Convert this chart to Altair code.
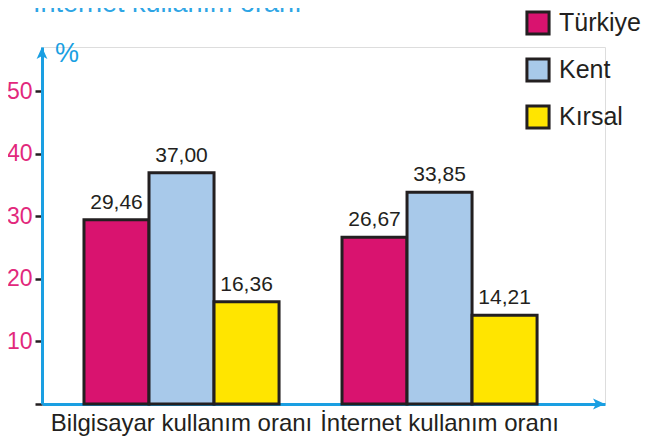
import altair as alt
import pandas as pd

categories = ["Bilgisayar kullanım oranı", "İnternet kullanım oranı"]
series = ["Türkiye", "Kent", "Kırsal"]
values_bilgisayar = [29.46, 37.00, 16.36]
values_internet = [26.67, 33.85, 14.21]
colors = ["#d9136f", "#a8c9ea", "#ffe500"]
y_ticks = [0, 10, 20, 30, 40, 50]
top_text = "İnternet kullanım oranı"
unit_text = "%"

rows = []
for cat, vals in zip(categories, [values_bilgisayar, values_internet]):
    for s, v in zip(series, vals):
        rows.append({"kategori": cat, "seri": s, "deger": v})
df = pd.DataFrame(rows)

W, H = 563, 357
YMAX = 57.1
BLUE = "#1a9fe2"
DARK = "#231f20"
PINK = "#e2287c"
FONT = "Liberation Sans"

x_enc = alt.X(
    "kategori:N",
    sort=categories,
    scale=alt.Scale(paddingInner=0.244, paddingOuter=0.213, align=0.382),
    axis=alt.Axis(
        title=None, labelAngle=0, labelFontSize=24, labelColor=DARK, labelFont=FONT,
        labelLimit=0, domainColor=BLUE, domainWidth=3, ticks=False, tickSize=0, labelPadding=7,
    ),
)
xoff = alt.XOffset("seri:N", sort=series, scale=alt.Scale(paddingInner=0, paddingOuter=0))
y_enc = alt.Y(
    "deger:Q",
    scale=alt.Scale(domain=[0, YMAX], nice=False, zero=True),
    axis=alt.Axis(
        title=None, values=y_ticks, grid=False, labelFontSize=23, labelColor=PINK, labelFont=FONT,
        labelExpr="datum.value == 0 ? '' : datum.label",
        domainColor=BLUE, domainWidth=3, tickColor=DARK, tickWidth=2.5, tickSize=7, labelPadding=3,
    ),
)

base = alt.Chart(df)

bars = base.mark_bar(stroke=DARK, strokeWidth=3).encode(
    x=x_enc,
    xOffset=xoff,
    y=y_enc,
    color=alt.Color(
        "seri:N",
        sort=series,
        scale=alt.Scale(domain=series, range=colors),
        legend=alt.Legend(
            title=None, orient="none", legendX=483, legendY=-37,
            symbolType="square", symbolSize=490, symbolStrokeColor=DARK, symbolStrokeWidth=3,
            symbolOpacity=1, labelFontSize=25, labelFont=FONT, labelColor=DARK,
            labelOffset=8, rowPadding=11, labelLimit=0,
        ),
    ),
)

labels = base.transform_calculate(
    etiket="replace(format(datum.deger, '.2f'), '.', ',')"
).mark_text(fontSize=21, font=FONT, color=DARK, baseline="alphabetic", dy=-11).encode(
    x=alt.X("kategori:N", sort=categories),
    xOffset=alt.XOffset("seri:N", sort=series),
    y="deger:Q",
    text="etiket:N",
)

pct = alt.Chart(pd.DataFrame({"t": [unit_text]})).mark_text(
    fontSize=27, font=FONT, color=BLUE, align="left", baseline="alphabetic"
).encode(x=alt.value(13), y=alt.value(15), text="t:N")

top = alt.Chart(pd.DataFrame({"t": [top_text]})).mark_text(
    fontSize=27, font=FONT, color="#2ea5e5", align="left", baseline="alphabetic"
).encode(x=alt.value(-9), y=alt.value(-35), text="t:N")

arrow_up = alt.Chart(pd.DataFrame({"a": [1]})).mark_point(
    shape="M0,0L0.9,2L0,1.5L-0.9,2Z", filled=True, size=144, color=BLUE, opacity=1
).encode(x=alt.value(0), y=alt.value(0))

arrow_right = alt.Chart(pd.DataFrame({"a": [1]})).mark_point(
    shape="M0,0L-2,-0.9L-1.5,0L-2,0.9Z", filled=True, size=144, color=BLUE, opacity=1
).encode(x=alt.value(W), y=alt.value(H))

chart = alt.layer(bars, labels, pct, top, arrow_up, arrow_right).properties(
    width=W, height=H,
    autosize=alt.AutoSizeParams(type="none"),
    padding={"left": 34, "top": 39, "right": 38, "bottom": 32},
).configure_view(strokeWidth=0).configure(background="white")

chart.save("out.html", embed_options={"renderer": "svg", "actions": False})
